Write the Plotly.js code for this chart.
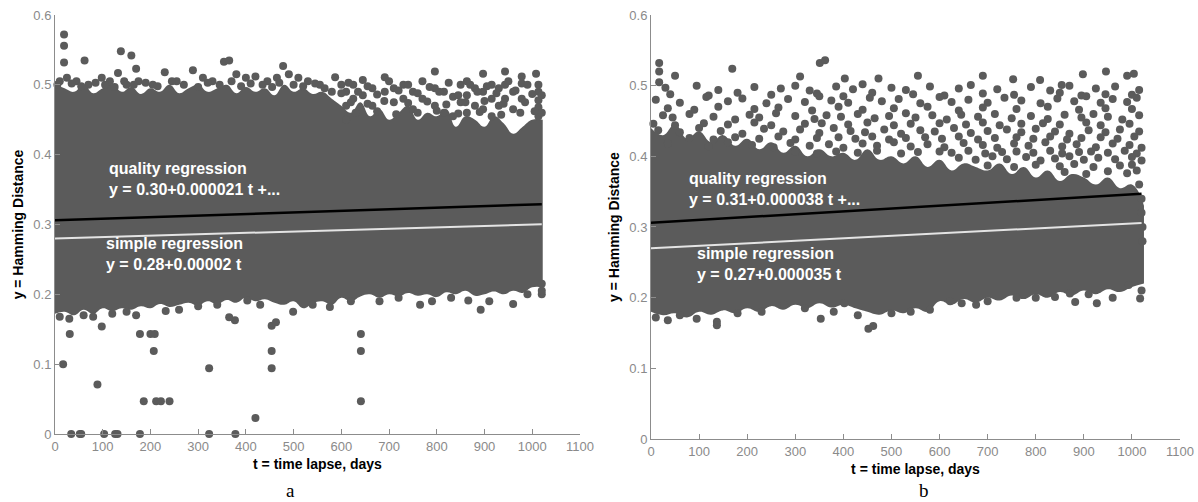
<!DOCTYPE html>
<html>
<head>
<meta charset="utf-8">
<script src="https://cdn.plot.ly/plotly-3.0.1.min.js"></script>
<style>
  html, body { margin: 0; padding: 0; background: #ffffff; }
  #chart { width: 1198px; height: 502px; }
</style>
</head>
<body>
<div id="chart"></div>
<script>
// ---- Panel a: Hamming distance vs time lapse ----
// outline of the solid part of the point cloud
const coreTimeA = [0, 20, 40, 60, 80, 100, 120, 140, 160, 180, 200, 220, 240, 260, 280, 300, 320, 340, 360, 380, 400, 420, 440, 460, 480, 500, 520, 540, 560, 580, 600, 620, 640, 660, 680, 700, 720, 740, 760, 780, 800, 820, 840, 860, 880, 900, 920, 940, 960, 980, 1000, 1022];
const coreHighA = [0.50, 0.495, 0.49, 0.50, 0.488, 0.495, 0.50, 0.49, 0.497, 0.487, 0.495, 0.49, 0.50, 0.488, 0.495, 0.50, 0.49, 0.495, 0.50, 0.488, 0.497, 0.49, 0.495, 0.485, 0.50, 0.49, 0.495, 0.487, 0.49, 0.48,
  0.47, 0.46, 0.475, 0.455, 0.465, 0.45, 0.46, 0.47, 0.45, 0.46, 0.455, 0.465, 0.44, 0.455, 0.45, 0.44, 0.455, 0.445, 0.43, 0.44, 0.45, 0.45];
const coreLowA = [0.172, 0.175, 0.17, 0.178, 0.172, 0.18, 0.176, 0.18, 0.178, 0.183, 0.18, 0.186, 0.182, 0.185, 0.188, 0.184,
  0.19, 0.186, 0.192, 0.188, 0.195, 0.19, 0.193, 0.188, 0.185, 0.19, 0.18, 0.187, 0.19, 0.185,
  0.195, 0.19, 0.197, 0.2, 0.195, 0.2, 0.197, 0.202, 0.198, 0.2, 0.196, 0.203, 0.2, 0.205, 0.198, 0.2, 0.204, 0.2, 0.205, 0.202, 0.21, 0.21];

// individual points around the core: high outliers, upper speckle, low tail
const dotTimeA = [
  19, 19, 19, 62, 138, 160, 170,
  10, 25, 45, 70, 98, 115, 132, 150, 175, 205, 230, 255, 289, 310, 330, 354, 365, 380, 400, 420, 445, 465, 478, 490, 510, 530, 555, 587, 600,
  5, 35, 55, 85, 105, 125, 145, 165, 190, 215, 245, 270, 300, 320, 345, 370, 390, 410, 435, 455, 470, 500, 520, 545, 565, 580,
  610, 610, 610, 625, 625, 645, 645, 665, 665, 691, 691, 710, 710, 730, 730, 750, 750,
  770, 770, 796, 796, 796, 815, 815, 834, 834, 850, 850, 863, 863, 863, 880, 880, 897, 897, 897,
  915, 915, 915, 930, 930, 943, 943, 943, 960, 960, 978, 978, 978, 1008, 1013, 1013, 1013, 1013, 1013, 1020, 1020,
  615, 655, 700, 740, 785, 825, 870, 905, 950, 990,
  600, 635, 675, 720, 760, 805, 845, 885, 925, 965, 1000,
  620, 655, 690, 740, 780, 820, 860, 900, 940, 985,
  630, 675, 715, 760, 800, 845, 890, 935, 975, 1005,
  17, 31, 34, 52, 55, 89, 98, 103, 126, 131, 178, 178, 186, 200, 209, 207, 212, 222, 240, 232, 323, 323, 378, 420, 454, 454, 454, 463,
  377, 365, 403, 641, 641, 641, 765, 892, 960, 499, 576, 866, 1020,
  10, 30, 60, 80, 120, 150, 170, 260, 300, 340, 430, 540, 620, 680, 720, 790, 830, 910, 990, 1020, 1020
];
const dotValueA = [
  0.572, 0.556, 0.532, 0.535, 0.548, 0.542, 0.523,
  0.505, 0.51, 0.505, 0.50, 0.51, 0.505, 0.517, 0.50, 0.505, 0.50, 0.518, 0.505, 0.521, 0.51, 0.505, 0.533, 0.535, 0.515, 0.51, 0.512, 0.505, 0.51, 0.527, 0.515, 0.51, 0.505, 0.50, 0.511, 0.50,
  0.50, 0.502, 0.498, 0.503, 0.50, 0.497, 0.505, 0.50, 0.503, 0.498, 0.505, 0.50, 0.497, 0.503, 0.50, 0.505, 0.498, 0.502, 0.50, 0.497, 0.503, 0.50, 0.498, 0.502, 0.495, 0.49,
  0.49, 0.47, 0.45, 0.50, 0.48, 0.507, 0.485, 0.495, 0.47, 0.511, 0.49, 0.495, 0.475, 0.50, 0.48, 0.49, 0.465,
  0.505, 0.48, 0.519, 0.495, 0.47, 0.49, 0.46, 0.483, 0.455, 0.50, 0.475, 0.505, 0.485, 0.46, 0.495, 0.47, 0.516, 0.49, 0.465,
  0.50, 0.48, 0.455, 0.495, 0.47, 0.519, 0.50, 0.48, 0.49, 0.465, 0.512, 0.502, 0.48, 0.516, 0.50, 0.49, 0.478, 0.468, 0.455, 0.485, 0.46,
  0.503, 0.498, 0.505, 0.50, 0.497, 0.503, 0.50, 0.498, 0.505, 0.50,
  0.488, 0.49, 0.486, 0.492, 0.488, 0.49, 0.485, 0.49, 0.488, 0.492, 0.487,
  0.475, 0.473, 0.477, 0.474, 0.476, 0.472, 0.475, 0.477, 0.473, 0.475,
  0.46, 0.462, 0.458, 0.46, 0.463, 0.459, 0.461, 0.457, 0.46, 0.462,
  0.10, 0.143, 0, 0, 0, 0.071, 0.154, 0, 0, 0, 0.143, 0, 0.047, 0.143, 0.143, 0.119, 0.047, 0.047, 0.047, 0.176, 0.094, 0, 0, 0.023, 0.119, 0.094, 0.155, 0.16,
  0.163, 0.167, 0.191, 0.143, 0.119, 0.047, 0.185, 0.178, 0.186, 0.175, 0.182, 0.191, 0.2,
  0.168, 0.165, 0.17, 0.168, 0.172, 0.175, 0.17, 0.178, 0.183, 0.185, 0.185, 0.185, 0.19, 0.19, 0.195, 0.19, 0.195, 0.19, 0.2, 0.205, 0.215
];

// regression lines, panel a
const qualityTimeA = [0, 1020];
const qualityValueA = [0.306, 0.329];
const simpleInterceptA = 0.28;
const simpleSlopeA = 0.00002;

// ---- Panel b ----
const coreTimeB = [0, 25, 50, 75, 100, 125, 150, 175, 200, 225, 250, 275, 300, 325, 350, 375, 400, 425, 450, 475, 500, 525, 550, 575, 600, 625, 650, 675, 700, 725, 750, 775, 800, 825, 850, 875, 900, 925, 950, 975, 1000, 1025];
const coreHighB = [0.44, 0.43, 0.445, 0.425, 0.435, 0.42, 0.43, 0.415, 0.425, 0.41, 0.42, 0.405, 0.415, 0.40, 0.41, 0.40,
  0.405, 0.395, 0.41, 0.395, 0.40, 0.39, 0.40, 0.385, 0.395, 0.38, 0.39, 0.385, 0.38, 0.39, 0.375, 0.385,
  0.37, 0.38, 0.365, 0.375, 0.37, 0.36, 0.37, 0.355, 0.36, 0.33];
const coreLowB = [0.18, 0.175, 0.178, 0.172, 0.18, 0.176, 0.182, 0.178, 0.185, 0.18, 0.188, 0.183, 0.19, 0.185, 0.192, 0.186,
  0.19, 0.185, 0.18, 0.176, 0.182, 0.178, 0.185, 0.18, 0.195, 0.19, 0.198, 0.193, 0.2, 0.196, 0.203, 0.198,
  0.205, 0.2, 0.208, 0.203, 0.21, 0.205, 0.212, 0.208, 0.215, 0.22];

const dotTimeB = [
  17, 17, 17, 169, 351, 362, 946, 1004, 898, 990, 50, 310, 403, 473, 555, 690, 753, 809, 854,
  30, 95, 140, 215, 270, 300, 330, 385, 420, 440, 500, 530, 580, 640, 665, 720, 790, 830, 870, 925, 965, 1015,
  40, 120, 180, 250, 345, 400, 460, 545, 610, 690, 755, 850, 895, 945, 1000,
  10, 60, 115, 160, 190, 240, 285, 320, 350, 375, 410, 455, 480, 515, 560, 600, 625, 660, 700, 735, 770, 810, 845, 880, 905, 935, 960, 990, 1010,
  35, 90, 140, 215, 265, 335, 390, 440, 505, 575, 640, 690, 760, 825, 890, 945, 1000,
  25, 45, 80, 130, 175, 205, 225, 260, 300, 340, 365, 395, 430, 465, 495, 530, 550, 585, 615, 645, 680, 715, 750, 790, 825, 860, 895, 920, 950, 980, 1015,
  5, 50, 110, 160, 215, 250, 320, 355, 410, 450, 505, 540, 600, 655, 690, 725, 770, 815, 850, 905, 935, 995,
  15, 60, 100, 145, 190, 235, 275, 310, 350, 380, 415, 445, 485, 520, 560, 590, 630, 665, 700, 740, 770, 800, 840, 870, 910, 945, 975, 1015,
  80, 130, 175, 225, 265, 300, 345, 390, 425, 460, 495, 530, 570, 605, 640, 680, 715, 760, 795, 830, 865, 895, 935, 970, 1005,
  35, 120, 160, 210, 255, 290, 330, 370, 400, 440, 470, 505, 540, 575, 610, 650, 690, 720, 755, 785, 820, 855, 885, 925, 960, 995, 1020,
  300, 345, 385, 430, 470, 520, 555, 600, 625, 660, 695, 730, 760, 795, 830, 855, 890, 915, 950, 985, 1010,
  640, 675, 710, 740, 780, 810, 840, 870, 900, 930, 965, 1000, 1020,
  700, 755, 800, 850, 880, 920, 975, 1000,
  860, 905, 950, 990, 1010,
  1015, 1020, 1020, 1022, 1022,
  35, 137, 137, 353, 452, 462, 402, 277, 622, 646, 676, 927, 1017, 871, 882, 993, 840, 580,
  10, 60, 95, 180, 230, 320, 380, 430, 500, 540, 700, 760, 800, 910, 960, 1020
];
const dotValueB = [
  0.532, 0.52, 0.505, 0.524, 0.532, 0.536, 0.52, 0.517, 0.516, 0.514, 0.514, 0.513, 0.51, 0.51, 0.514, 0.514, 0.509, 0.508, 0.501,
  0.497, 0.50, 0.494, 0.498, 0.496, 0.50, 0.493, 0.499, 0.495, 0.502, 0.497, 0.494, 0.499, 0.496, 0.501, 0.495, 0.498, 0.493, 0.50, 0.496, 0.499, 0.494,
  0.488, 0.486, 0.49, 0.487, 0.489, 0.485, 0.49, 0.488, 0.486, 0.489, 0.487, 0.49, 0.486, 0.488, 0.487,
  0.48, 0.476, 0.484, 0.478, 0.482, 0.475, 0.481, 0.477, 0.485, 0.479, 0.476, 0.483, 0.478, 0.481, 0.475, 0.484, 0.477, 0.48, 0.476, 0.483, 0.479, 0.475, 0.482, 0.478, 0.485, 0.476, 0.481, 0.477, 0.483,
  0.468, 0.466, 0.47, 0.467, 0.469, 0.465, 0.47, 0.466, 0.468, 0.47, 0.465, 0.469, 0.467, 0.47, 0.466, 0.468, 0.467,
  0.458, 0.455, 0.46, 0.456, 0.452, 0.459, 0.455, 0.461, 0.457, 0.453, 0.458, 0.456, 0.46, 0.454, 0.457, 0.461, 0.455, 0.458, 0.452, 0.459, 0.456, 0.46, 0.454, 0.457, 0.453, 0.459, 0.455, 0.46, 0.456, 0.452, 0.458,
  0.446, 0.444, 0.447, 0.445, 0.448, 0.444, 0.446, 0.447, 0.445, 0.448, 0.444, 0.446, 0.447, 0.445, 0.448, 0.444, 0.446, 0.447, 0.445, 0.448, 0.444, 0.446,
  0.437, 0.434, 0.44, 0.436, 0.432, 0.439, 0.435, 0.438, 0.433, 0.44, 0.436, 0.434, 0.438, 0.432, 0.437, 0.435, 0.44, 0.433, 0.436, 0.438, 0.434, 0.439, 0.435, 0.432, 0.437, 0.434, 0.438, 0.435,
  0.426, 0.424, 0.427, 0.425, 0.428, 0.424, 0.426, 0.427, 0.425, 0.428, 0.424, 0.426, 0.427, 0.425, 0.428, 0.424, 0.426, 0.427, 0.425, 0.428, 0.424, 0.426, 0.427, 0.425, 0.428,
  0.418, 0.414, 0.42, 0.416, 0.413, 0.419, 0.415, 0.417, 0.412, 0.418, 0.415, 0.42, 0.414, 0.417, 0.413, 0.419, 0.416, 0.412, 0.418, 0.415, 0.42, 0.414, 0.417, 0.413, 0.418, 0.416, 0.412,
  0.406, 0.404, 0.407, 0.405, 0.408, 0.404, 0.406, 0.407, 0.405, 0.408, 0.404, 0.406, 0.407, 0.405, 0.408, 0.404, 0.406, 0.407, 0.405, 0.408, 0.404,
  0.398, 0.395, 0.40, 0.396, 0.399, 0.394, 0.397, 0.40, 0.395, 0.398, 0.396, 0.399, 0.394,
  0.387, 0.385, 0.388, 0.386, 0.389, 0.385, 0.387, 0.388,
  0.378, 0.375, 0.379, 0.376, 0.38,
  0.36, 0.34, 0.32, 0.30, 0.28,
  0.168, 0.166, 0.161, 0.17, 0.156, 0.16, 0.192, 0.19, 0.195, 0.192, 0.19, 0.192, 0.199, 0.206, 0.194, 0.218, 0.201, 0.183,
  0.172, 0.175, 0.17, 0.178, 0.18, 0.185, 0.18, 0.175, 0.178, 0.18, 0.195, 0.2, 0.2, 0.205, 0.2, 0.21
];

const qualityTimeB = [0, 1020];
const qualityValueB = [0.306, 0.347];
const simpleInterceptB = 0.27;
const simpleSlopeB = 0.000035;

const lineEndTime = [0, 1020];

// ---- styling ----
const DOT = '#5b5b5b';
const AXIS = '#8c8c8c';

// solid core: smoothed lower edge, then upper edge filled down to it
function coreTraces(t, hi, lo, xa, ya) {
  const edge = { width: 0, color: DOT, shape: 'spline', smoothing: 1.3 };
  return [
    { type: 'scatter', mode: 'lines', x: t, y: lo, line: edge, xaxis: xa, yaxis: ya,
      hoverinfo: 'skip', showlegend: false },
    { type: 'scatter', mode: 'lines', x: t, y: hi, line: edge, fill: 'tonexty', fillcolor: DOT,
      xaxis: xa, yaxis: ya, hoverinfo: 'skip', showlegend: false }
  ];
}
function dotTrace(t, v, xa, ya) {
  return {
    type: 'scatter', mode: 'markers', x: t, y: v, xaxis: xa, yaxis: ya,
    marker: { symbol: 'circle', size: 8, color: DOT }, cliponaxis: false, showlegend: false
  };
}
function lineTrace(t, v, color, width, xa, ya) {
  return {
    type: 'scatter', mode: 'lines', x: t, y: v, xaxis: xa, yaxis: ya,
    line: { color: color, width: width }, showlegend: false
  };
}
const simpleA = lineEndTime.map(t => simpleInterceptA + simpleSlopeA * t);
const simpleB = lineEndTime.map(t => simpleInterceptB + simpleSlopeB * t);

const data = [].concat(
  coreTraces(coreTimeA, coreHighA, coreLowA, 'x', 'y'),
  [dotTrace(dotTimeA, dotValueA, 'x', 'y'),
   lineTrace(qualityTimeA, qualityValueA, '#000000', 2.5, 'x', 'y'),
   lineTrace(lineEndTime, simpleA, '#e4e4e4', 2, 'x', 'y')],
  coreTraces(coreTimeB, coreHighB, coreLowB, 'x2', 'y2'),
  [dotTrace(dotTimeB, dotValueB, 'x2', 'y2'),
   lineTrace(qualityTimeB, qualityValueB, '#000000', 2.5, 'x2', 'y2'),
   lineTrace(lineEndTime, simpleB, '#e4e4e4', 2, 'x2', 'y2')]
);

const tickFont = { family: 'Arial, Liberation Sans', size: 13, color: '#8a8a8a' };
const titleFont = { family: 'Arial, Liberation Sans', size: 14, color: '#000', weight: 'bold' };

function xAxis(domain, anchor) {
  return {
    domain: domain, anchor: anchor, range: [0, 1100], dtick: 100, tick0: 0,
    showline: true, linecolor: AXIS, linewidth: 1, ticks: 'inside', ticklen: 5, tickcolor: AXIS,
    showgrid: false, zeroline: false, tickfont: tickFont,
    title: { text: '<b>t = time lapse, days</b>', standoff: 6, font: titleFont }
  };
}
function yAxis(domain, anchor) {
  return {
    domain: domain, anchor: anchor, range: [0, 0.6], dtick: 0.1, tick0: 0,
    showline: true, linecolor: AXIS, linewidth: 1, ticks: 'inside', ticklen: 5, tickcolor: AXIS,
    showgrid: false, zeroline: false, tickfont: tickFont,
    title: { text: '<b>y = Hamming Distance</b>', standoff: 6, font: titleFont }
  };
}

const labelFont = { family: 'Arial, Liberation Sans', size: 16, color: '#ffffff' };
const layout = {
  width: 1198, height: 502,
  margin: { l: 0, r: 0, t: 0, b: 0 },
  paper_bgcolor: '#ffffff', plot_bgcolor: 'rgba(0,0,0,0)',
  showlegend: false,
  xaxis: xAxis([0.0459, 0.4841], 'y'),
  yaxis: yAxis([0.1355, 0.9701], 'x'),
  xaxis2: xAxis([0.5434, 0.985], 'y2'),
  yaxis2: yAxis([0.1255, 0.9701], 'x2'),
  annotations: [
    { xref: 'x', yref: 'y', x: 109, y: 0.365, xanchor: 'left', yanchor: 'middle', align: 'left', showarrow: false,
      text: '<b>quality regression<br>y = 0.30+0.000021 t +...</b>', font: labelFont },
    { xref: 'x', yref: 'y', x: 103, y: 0.258, xanchor: 'left', yanchor: 'middle', align: 'left', showarrow: false,
      text: '<b>simple regression<br>y = 0.28+0.00002 t</b>', font: labelFont },
    { xref: 'x2', yref: 'y2', x: 75, y: 0.354, xanchor: 'left', yanchor: 'middle', align: 'left', showarrow: false,
      text: '<b>quality regression<br>y = 0.31+0.000038 t +...</b>', font: labelFont },
    { xref: 'x2', yref: 'y2', x: 91, y: 0.247, xanchor: 'left', yanchor: 'middle', align: 'left', showarrow: false,
      text: '<b>simple regression<br>y = 0.27+0.000035 t</b>', font: labelFont },
    { xref: 'paper', yref: 'paper', x: 290 / 1198, y: 1 - 490 / 502, xanchor: 'center', yanchor: 'middle', showarrow: false,
      text: 'a', font: { family: 'Times New Roman, Liberation Serif', size: 19, color: '#000' } },
    { xref: 'paper', yref: 'paper', x: 924 / 1198, y: 1 - 490 / 502, xanchor: 'center', yanchor: 'middle', showarrow: false,
      text: 'b', font: { family: 'Times New Roman, Liberation Serif', size: 19, color: '#000' } }
  ]
};

Plotly.newPlot('chart', data, layout, { staticPlot: true, displayModeBar: false });
</script>
</body>
</html>
